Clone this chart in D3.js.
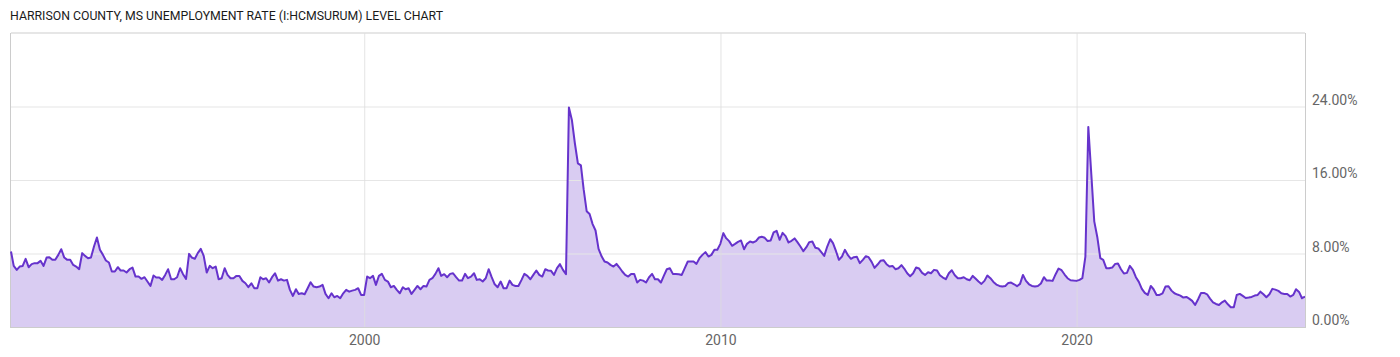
<!DOCTYPE html>
<html>
<head>
<meta charset="utf-8">
<script src="https://cdn.jsdelivr.net/npm/d3@7"></script>
<style>
	body { margin: 0; background: #fff; }
	#chartId text { font-family: Roboto, "Noto Sans", sans-serif; }
</style>
</head>
<body>
<div id="chartId"></div>
<script>

// Monthly unemployment rate (%), Harrison County MS, starting Jan 1990
var rate1990s = [
	8.22,6.65,6.22,6.58,6.65,7.42,6.51,6.84,6.95,6.95,
	7.2,6.65,7.56,7.6,7.31,7.31,7.85,8.47,7.56,7.31,
	7.31,6.76,6.58,6.29,8.04,7.74,7.49,7.56,8.76,9.74,
	8.4,7.85,7.24,7.02,6.04,6.04,6.51,6.15,6.15,5.93,
	6.29,6.47,5.49,5.49,5.24,5.42,4.95,4.47,5.6,5.38,
	5.38,5.13,5.67,6.29,5.2,5.2,5.42,6.4,5.75,5.24,
	7.96,7.56,7.42,8.04,8.51,7.74,5.93,6.65,6.4,6.58,
	5.2,5.31,6.4,5.67,5.31,5.31,5.56,5.56,5.02,4.76,
	4.33,4.76,4.22,4.22,5.42,5.2,5.31,4.84,5.42,5.85,
	5.05,5.2,5.05,5.13,4.04,3.38,4.11,3.6,3.67,3.56,
	4.22,4.87,4.4,4.33,4.4,4.58,3.6,3.13,3.67,3.24,
	3.38,3.13,3.67,4.04,3.85,3.96,4.04,4.22,3.49,3.49
];
var rate2000s = [
	5.49,5.31,5.56,4.58,5.56,5.78,5.13,4.95,4.33,4.47,
	4.04,3.67,4.33,4.11,4.22,3.6,4.04,4.47,4.11,4.47,
	4.4,5.13,5.31,5.78,6.4,5.56,5.75,5.42,5.78,5.85,
	5.42,5.05,5.05,5.78,5.31,5.49,5.85,5.13,5.2,4.95,
	5.31,6.29,5.42,4.65,4.33,4.95,4.22,4.22,5.05,4.58,
	4.47,4.47,5.1,5.78,5.56,5.2,5.67,6.15,5.67,5.49,
	6.29,6.15,6.11,5.67,6.4,6.84,6.22,5.75,
	23.9,22.5,20.0,17.8,17.6,15.0,12.6,12.3,11.2,10.5,
	8.5,7.7,7.13,7.02,6.76,6.58,6.87,6.5,6.04,5.67,
	5.49,5.78,5.78,4.84,5.13,5.05,4.84,5.42,5.78,5.2,
	5.2,4.84,5.6,6.29,6.4,5.78,5.78,5.75,5.67,6.4,
	7.13,7.13,7.13,6.87,7.49,7.85,8.15,7.67,7.85,8.4,
	8.4,9.05
];
var rate2010s = [
	10.22,9.67,9.35,8.84,9.05,9.27,9.42,8.47,9.05,9.31,
	9.2,9.35,9.74,9.82,9.71,9.35,9.42,10.29,10.47,9.49,
	10.25,9.89,9.2,9.38,9.64,9.24,8.76,8.25,8.69,9.24,
	9.31,8.62,8.55,8.14,7.74,8.76,9.56,9.13,8.25,7.31,
	7.67,8.4,7.82,7.42,7.6,7.64,6.95,7.31,7.71,7.6,
	7.09,6.44,6.8,7.2,7.27,6.84,6.58,6.65,6.29,6.4,
	6.73,6.36,5.85,5.53,5.85,6.47,6.36,5.89,5.67,5.96,
	5.85,6.22,6.15,5.64,5.38,5.2,5.85,6.18,5.64,5.31,
	5.31,5.42,5.2,5.09,5.56,5.27,4.95,4.69,5.02,5.6,
	5.31,4.91,4.62,4.47,4.4,4.47,4.8,4.84,4.65,4.44,
	4.69,5.67,5.02,4.65,4.47,4.4,4.47,4.73,5.42,5.05,
	5.05,5.02,5.75,6.36,6.18,5.71,5.31,5.09,5.05,5.02
];
var rate2020s = [
	5.13,5.31,7.67,21.78,16.6,11.5,9.8,7.5,7.31,6.4,
	6.4,6.47,6.87,6.91,6.29,5.82,5.89,6.65,6.22,5.42,
	4.91,4.15,3.71,3.49,4.47,4.11,3.49,3.49,3.67,4.4,
	4.44,3.96,3.67,3.53,3.42,3.2,3.27,3.09,2.84,2.4,
	3.02,3.71,3.71,3.56,3.09,2.69,2.51,2.4,2.69,2.87,
	2.47,2.15,2.15,3.49,3.6,3.38,3.16,3.2,3.27,3.42,
	3.49,3.85,3.56,3.24,3.56,4.15,4.07,3.93,3.67,3.6,
	3.6,3.31,3.49,4.11,3.82,3.13,3.31
];

var chartTitle = "HARRISON COUNTY, MS UNEMPLOYMENT RATE (I:HCMSURUM) LEVEL CHART";
var yTicks = [0, 8, 16, 24];
var xTickYears = [2000, 2010, 2020];


/*
 *  Level chart constructor
 */
function LevelChart(parentElement, rates){
	var vis = this;
	vis.parentElement = parentElement;
	vis.rates = rates;
	vis.init();
}

LevelChart.prototype.init = function() {
	var vis = this;
	vis.width = 1400;
	vis.height = 357;
	vis.plot = { left: 11, top: 33, right: 1305, bottom: 327 };

	vis.svg = d3.select("#" + vis.parentElement).append("svg")
		.attr("width", vis.width)
		.attr("height", vis.height);

	// monthly points sit on the last day of each month
	vis.data = vis.rates.map(function(v, i) {
		return { date: new Date(1990, i + 1, 0), value: v };
	});

	vis.x = d3.scaleTime()
		.domain(d3.extent(vis.data, function(d) { return d.date; }))
		.range([vis.plot.left, vis.plot.right]);

	vis.y = d3.scaleLinear()
		.domain([0, 32])
		.range([vis.plot.bottom, vis.plot.top]);

	vis.updateVis();
};

/*
 *  The drawing function
 */
LevelChart.prototype.updateVis = function() {
	var vis = this;
	var p = vis.plot;

	// title
	vis.svg.append("text")
		.attr("x", 10)
		.attr("y", 20)
		.attr("textLength", 433)
		.attr("lengthAdjust", "spacingAndGlyphs")
		.style("font-size", "13px")
		.style("fill", "#1a1a1a")
		.text(chartTitle);

	// plot frame (top + left)
	vis.svg.append("line")
		.attr("x1", p.left).attr("x2", p.right)
		.attr("y1", p.top).attr("y2", p.top)
		.attr("stroke", "#e6e6e6").attr("stroke-width", 2);
	vis.svg.append("line")
		.attr("x1", p.left - 0.5).attr("x2", p.left - 0.5)
		.attr("y1", p.top).attr("y2", p.bottom)
		.attr("stroke", "#cccccc").attr("stroke-width", 1);

	// area + line
	var area = d3.area()
		.x(function(d) { return vis.x(d.date); })
		.y0(vis.y(0))
		.y1(function(d) { return vis.y(d.value); });
	var line = d3.line()
		.x(function(d) { return vis.x(d.date); })
		.y(function(d) { return vis.y(d.value); });

	vis.svg.append("path")
		.datum(vis.data)
		.attr("d", area)
		.attr("fill", "rgb(103,52,204)")
		.attr("fill-opacity", 0.25);

	// horizontal grid
	var yAxis = d3.axisRight(vis.y)
		.tickValues(yTicks)
		.tickSize(-(p.right - p.left))
		.tickFormat(function(d) { return d3.format(".2f")(d) + "%"; });

	var gy = vis.svg.append("g")
		.attr("transform", "translate(" + p.right + ",0)")
		.call(yAxis);
	gy.select(".domain").remove();
	gy.selectAll(".tick line")
		.attr("stroke", "#e6e6e6")
		.attr("stroke-width", 1.2)
		.filter(function(d) { return d === 0; }).remove();
	gy.selectAll(".tick text")
		.attr("x", 7)
		.attr("dy", "-0.15em")
		.attr("text-anchor", "start")
		.style("font-size", "14px")
		.style("fill", "#666");

	// vertical grid + year labels
	var xAxis = d3.axisBottom(vis.x)
		.tickValues(xTickYears.map(function(yr) { return new Date(yr, 0, 1); }))
		.tickSize(-(p.bottom - p.top))
		.tickFormat(d3.timeFormat("%Y"));

	var gx = vis.svg.append("g")
		.attr("transform", "translate(0," + p.bottom + ")")
		.call(xAxis);
	gx.select(".domain").remove();
	gx.selectAll(".tick line")
		.attr("stroke", "#dddddd")
		.attr("stroke-opacity", 0.8);
	gx.selectAll(".tick text")
		.attr("y", 8)
		.attr("dy", "0.71em")
		.style("font-size", "14px")
		.style("fill", "#666");

	vis.svg.append("path")
		.datum(vis.data)
		.attr("d", line)
		.attr("fill", "none")
		.attr("stroke", "#6633cc")
		.attr("stroke-width", 2)
		.attr("stroke-linejoin", "round");

	// bottom + right axis lines
	vis.svg.append("line")
		.attr("x1", p.left - 1).attr("x2", p.right + 0.5)
		.attr("y1", p.bottom + 0.5).attr("y2", p.bottom + 0.5)
		.attr("stroke", "#cccccc");
	vis.svg.append("line")
		.attr("x1", p.right + 0.5).attr("x2", p.right + 0.5)
		.attr("y1", p.top).attr("y2", p.bottom + 1)
		.attr("stroke", "#cccccc");
};

var allRates = rate1990s.concat(rate2000s, rate2010s, rate2020s);
var chart = new LevelChart("chartId", allRates);

</script>
</body>
</html>
